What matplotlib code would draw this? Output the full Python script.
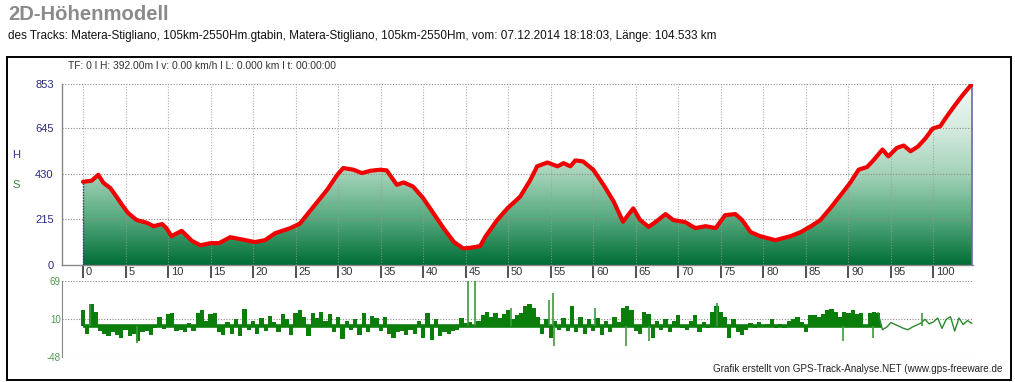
import numpy as np
import matplotlib
matplotlib.use("Agg")
import matplotlib.pyplot as plt
from matplotlib.colors import LinearSegmentedColormap
from matplotlib.patches import Rectangle

plt.rcParams['font.family'] = ['Liberation Sans', 'DejaVu Sans']

# ---------------- data ----------------
title = "2D-Höhenmodell"
subtitle = ("des Tracks: Matera-Stigliano, 105km-2550Hm.gtabin, Matera-Stigliano, "
            "105km-2550Hm, vom: 07.12.2014 18:18:03, Länge: 104.533 km")
info = "TF: 0 l H: 392.00m l v: 0.00 km/h l L: 0.000 km l t: 00:00:00"
footer = "Grafik erstellt von GPS-Track-Analyse.NET (www.gps-freeware.de"

elev_km = [0, 1.0, 1.8, 2.4, 3.2, 3.8, 4.6, 5.3, 6.3, 7.5, 8.3, 9.3, 9.8, 10.4, 11.6,
           12.8, 13.8, 15.0, 16.0, 17.3, 18.5, 20.2, 21.4, 22.6, 24.4, 25.5, 27.1,
           28.7, 29.9, 30.6, 31.8, 32.8, 33.8, 34.9, 35.7, 36.9, 37.7, 38.8, 40.0,
           41.2, 42.4, 43.6, 44.7, 45.5, 46.7, 47.3, 48.7, 49.9, 51.4, 52.6, 53.4,
           54.6, 55.8, 56.5, 57.3, 57.9, 58.8, 60.0, 61.2, 62.4, 63.5, 64.7, 65.5,
           66.5, 67.3, 68.5, 69.4, 70.8, 72.0, 73.2, 74.4, 75.5, 76.7, 77.5, 78.5,
           79.6, 81.4, 83.2, 84.4, 85.8, 86.7, 87.9, 89.1, 90.2, 91.2, 92.2, 93.0,
           94.0, 94.7, 95.7, 96.5, 97.3, 98.2, 99.1, 99.9, 100.8, 101.6, 102.6,
           103.5, 104.533]
elev_m = [392, 397, 425, 387, 363, 330, 283, 245, 212, 199, 183, 193, 174, 136, 161,
          114, 93, 103, 103, 131, 122, 108, 117, 150, 174, 195, 275, 354, 425, 457,
          449, 433, 444, 449, 446, 378, 389, 370, 315, 244, 173, 109, 78, 81, 89,
          133, 212, 267, 322, 401, 465, 483, 465, 480, 465, 493, 488, 449, 378, 299,
          204, 267, 212, 180, 202, 240, 212, 202, 174, 183, 174, 235, 240, 212, 155,
          136, 117, 136, 155, 188, 212, 269, 330, 387, 449, 462, 496, 544, 512, 552,
          563, 536, 559, 599, 643, 654, 702, 757, 804, 853]

# speed variation, one value per 0.5 km
spd_val = [25, -12, 33, 22, -8, -12, -15, -10, -14, -18, -6, -15, -12, -24, -10, -8,
           -14, -4, 14, -5, 18, 20, -8, -6, -10, 5, -8, 20, 24, 8, 18, 20,
           -10, -14, 6, -12, 10, -16, 26, -6, 8, -12, 12, -8, 15, 6, -10, 18,
           10, -14, 20, 24, 14, -16, 20, 12, 22, 8, 18, -10, 14, -20, 8, -6,
           10, -14, 20, -10, 15, 12, -8, 14, -12, -18, -10, -8, -14, -6, -12, 8,
           -18, 20, -22, 10, -15, -10, -12, -8, -6, 12, 4, 6, 2, 8, 16, 22,
           14, 20, 12, 18, 24, 10, 16, 20, 30, 33, 28, 14, -12, 10, -18, 8,
           -6, 12, -8, 30, -10, 14, -12, 10, -8, 12, -14, 8, -10, 14, 6, 28,
           30, 24, -8, -12, 22, 18, -18, 8, -6, 10, -10, 8, 17, -4, -6, 8,
           17, -10, 6, -4, 22, 30, 22, 13, -18, 10, -10, -14, -6, 4, -3, 6,
           -2, 3, 10, -4, 3, -3, 8, 10, 14, 6, -10, 17, 16, 14, 18, 24,
           26, 22, 14, 22, 20, 24, 18, 20, 2, 20, 22, 20, -6, -2, 5, 2,
           -1, -4, -6, -2, 1, 4, 10, 3, 6, 12, -4, 10, 14, -8, 12, 2,
           8, 4]
spike_km = [0.8, 6.3, 45.3, 46.1, 50.3, 54.8, 55.3, 55.4, 60.2, 63.9, 66.6, 74.5,
            89.4, 92.9, 98.6]
spike_val = [33, -26, 69, 69, 28, 40, 50, -31, 28, -31, -23, 35, -23, -19, 19]

x_ticks = list(range(0, 101, 5))
y_ticks = [0, 215, 430, 645, 853]
s_ticks = [69, 10, -48]

# ---------------- figure ----------------
W, H = 1015, 382
fig = plt.figure(figsize=(W / 100, H / 100), dpi=100)

def fx(px):
    return px / W

def fy(py):
    return 1 - py / H

fig.text(fx(8), fy(14), title, fontsize=14.6, fontweight='bold', color='#8a8a8a',
         va='center', ha='left')
fig.text(fx(8), fy(36), subtitle, fontsize=8.45, color='#111111', va='center', ha='left')

frame = Rectangle((fx(7), fy(380)), fx(1011) - fx(7), fy(57) - fy(380),
                  transform=fig.transFigure, fill=False, edgecolor='black', lw=1.4)
fig.patches.append(frame)

fig.text(fx(68), fy(66), info, fontsize=7.4, color='#333333', va='center', ha='left')
fig.text(fx(12), fy(155), "H", fontsize=8, color='#333388', va='center', ha='left')
fig.text(fx(12), fy(185), "S", fontsize=8, color='#338833', va='center', ha='left')
fig.text(fx(713), fy(369), footer, fontsize=7.1, color='#222222', va='center', ha='left')

km_end = elev_km[-1]
x0 = -2.47
x1 = 104.65

# ------------- elevation axes -------------
ax = fig.add_axes([fx(62), fy(265), fx(973) - fx(62), fy(84) - fy(265)])
ax.set_xlim(x0, x1)
ax.set_ylim(0, 853)
for s in ['top', 'right']:
    ax.spines[s].set_visible(False)
for s in ['left', 'bottom']:
    ax.spines[s].set_color('#888888')
    ax.spines[s].set_linewidth(1)

cmap = LinearSegmentedColormap.from_list(
    'g', [(0.0, '#006e36'), (0.25, '#54a87c'), (0.5, '#a3d2b8'),
          (0.75, '#d4eadf'), (1.0, '#f3faf6')])
grad = np.linspace(0, 1, 256).reshape(-1, 1)
im = ax.imshow(grad, cmap=cmap, extent=[0, km_end, 0, 853], origin='lower',
               aspect='auto', zorder=1)
poly = ax.fill_between(elev_km, elev_m, 0, color='none', lw=0)
im.set_clip_path(poly.get_paths()[0], transform=ax.transData)

# grid
for yv in y_ticks[1:]:
    ax.axhline(yv, color='#8a8a8a', lw=0.8, ls=(0, (1, 1.5)), zorder=2)
for xv in x_ticks:
    ax.axvline(xv, color='#9a9a9a', lw=0.8, ls=(0, (1, 1.5)), zorder=2, alpha=0.8)

ax.plot([0, 0], [0, elev_m[0]], color='#333399', lw=1, ls=(0, (1, 1)), zorder=3)
ax.plot([km_end, km_end], [0, elev_m[-1]], color='#6a6aaa', lw=1.2, zorder=3)
ax.plot([0, km_end], [0, 0], color='#333366', lw=1, ls=(0, (1, 1)), zorder=3)
ax.plot(elev_km, elev_m, color='#f00000', lw=3.0, zorder=4, solid_joinstyle='round',
        solid_capstyle='round')

ax.set_yticks(y_ticks)
ax.set_yticklabels([str(v) for v in y_ticks], color='#2a2a7a', fontsize=8)
ax.tick_params(axis='y', length=0, pad=6)
ax.set_xticks(x_ticks)
ax.set_xticklabels([])
ax.tick_params(axis='x', direction='out', length=9, width=1.2, color='#333333')
for xv in x_ticks:
    ax.annotate(str(xv), xy=(xv, 0), xycoords=('data', 'axes fraction'),
                xytext=(2, -1.5), textcoords='offset points', fontsize=8,
                color='#333333', ha='left', va='top')

# ------------- speed axes -------------
ax2 = fig.add_axes([fx(62), fy(357), fx(973) - fx(62), fy(281) - fy(357)])
ax2.set_xlim(x0, x1)
ax2.set_ylim(-48, 69)
for s in ['top', 'right', 'bottom']:
    ax2.spines[s].set_visible(False)
ax2.spines['left'].set_color('#888888')
for yv in s_ticks:
    ax2.axhline(yv, color='#8a8a8a', lw=0.8, ls=(0, (1, 1.5)), zorder=1)

spd_km = np.arange(len(spd_val)) * 0.5
spd = np.array(spd_val)
bar_mask = spd_km < 94
ax2.bar(spd_km[bar_mask], spd[bar_mask], width=0.5, color='#0b7d0b', lw=0, zorder=2)
ax2.plot([0, 94], [0, 0], color='#0b7d0b', lw=2.6, zorder=2, solid_capstyle='butt')
line_mask = spd_km >= 93.5
ax2.plot(spd_km[line_mask], spd[line_mask], color='#2a8a2a', lw=1, zorder=2)
ax2.vlines(spike_km, 0, spike_val, color='#3c9a3c', lw=1.2, zorder=2)

ax2.set_yticks(s_ticks)
ax2.set_yticklabels([str(v) for v in s_ticks], color='#4f9a4f', fontsize=7)
ax2.tick_params(axis='y', length=0, pad=1)
ax2.set_xticks([])

fig.savefig("out.png", dpi=100)
